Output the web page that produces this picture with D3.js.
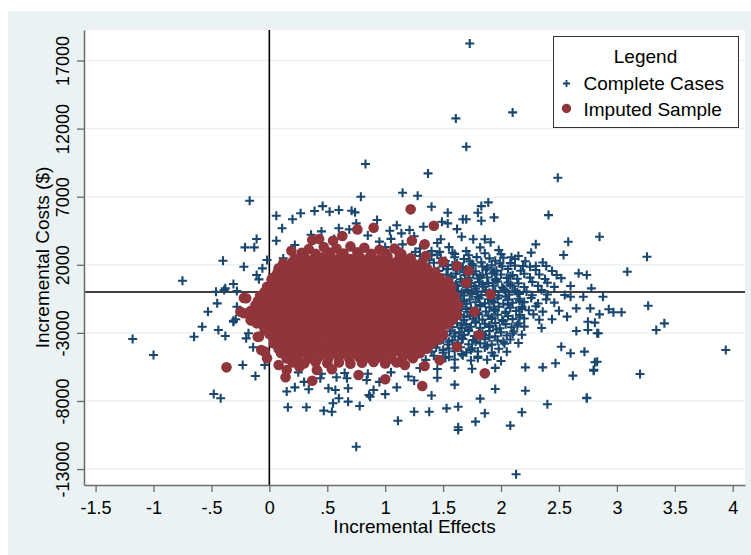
<!DOCTYPE html>
<html>
<head>
<meta charset="utf-8">
<script src="https://cdn.jsdelivr.net/npm/d3@7"></script>
<style>
  html, body { margin: 0; padding: 0; background: #fff; }
  svg { display: block; font-family: "Liberation Sans", Arial, Helvetica, sans-serif; }
</style>
</head>
<body>
<svg></svg>
<script>
// Cost-effectiveness plane: incremental effects vs incremental costs ($)

const xTicks = [-1.5, -1, -0.5, 0, 0.5, 1, 1.5, 2, 2.5, 3, 3.5, 4],
      xTickLabels = ['-1.5', '-1', '-.5', '0', '.5', '1', '1.5', '2', '2.5', '3', '3.5', '4'],
      yTicks = [-13000, -8000, -3000, 2000, 7000, 12000, 17000];

const seriesNames = ['Complete Cases', 'Imputed Sample'];

// Complete cases, scattered points [effect, cost]
const completeOutliers = [
  [1.73,18250],[1.61,12750],[2.10,13190],[1.70,10670],[0.83,9400],[1.37,8710],[2.49,8390],
  [0.79,7000],[1.15,7290],[1.28,7070],[-0.17,6700],[0.06,5600],[0.27,5780],[0.20,5340],
  [0.11,4680],[0.39,5950],[0.46,6310],[0.52,5890],[0.60,6020],[0.71,5970],[0.74,5850],
  [-0.11,3890],[-0.21,3280],[-0.13,3280],[0.06,3770],[-0.40,2300],[-0.22,1860],[-0.02,2350],
  [-0.75,830],[-0.06,1740],[-0.11,1250],[-0.09,930],[-0.31,590],[-0.46,20],[-0.38,270],
  [0.60,4680],[0.69,4600],[0.75,5040],[0.56,3890],[0.12,2470],[0.22,3450],
  [-0.39,150],[-0.28,70],[-0.45,-830],[-0.53,-1450],[-0.28,-1080],[-0.58,-2550],[-0.44,-2790],
  [-0.38,-3230],[-0.65,-3280],[-1.18,-3450],[-1.00,-4620],[-0.31,-2110],[-0.29,-2000],
  [-0.18,-3030],[-0.20,-3400],[-0.14,-4060],[-0.23,-5360],[-0.12,-6170],[-0.48,-7490],
  [-0.42,-7800],[-0.31,-2180],[-0.04,-5360],
  [0.16,-8460],[0.32,-8460],[0.47,-8710],[0.54,-8790],[0.22,-7000],[0.34,-7140],[0.51,-7070],
  [0.57,-7190],[0.60,-7800],[0.68,-7070],[0.68,-8050],[0.78,-8370],[0.55,-8170],[0.44,-6330],
  [0.58,-6260],[0.67,-6330],[0.84,-6460],[0.87,-7690],[0.90,-7190],[0.75,-11360],[0.86,-7560],
  [1.11,-9450],[2.13,-13380],[1.63,-10130],[1.78,-9520],[1.86,-8900],[2.08,-9810],[2.18,-8830],
  [2.40,-8240],[2.74,-7800],[1.82,-7830],[1.95,-7120],[2.21,-7250],[1.53,-8540],[1.63,-8420],
  [1.25,-8790],[1.38,-8790],[1.63,-9930],[2.62,-6140],[2.80,-5720],[2.47,-5230],[2.36,-5530],
  [2.21,-5530],[2.60,-4500],[2.72,-4380],[2.83,-5120],[2.52,-4020],[2.65,-2860],[2.83,-3030],
  [2.75,-2180],[2.77,-1200],[2.57,-1810],[2.44,-2000],[2.65,-1200],[2.60,-350],[2.71,-350],
  [2.85,4060],[3.26,2590],[3.09,1490],[2.74,1250],[2.78,270],[2.88,-350],[3.27,-1010],
  [2.93,-1270],[2.97,-1490],[3.04,-1490],[2.85,-1640],[3.41,-2300],[3.34,-2790],[2.81,-2250],
  [2.75,-2790],[2.84,-3030],[3.94,-4260],[2.81,-5160],[2.80,-5780],[3.20,-6020],[2.74,-7760],
  [1.40,6260],[1.54,5820],[1.80,5820],[1.83,6310],[1.89,6580],[1.94,5480],[1.67,5340],
  [1.70,5340],[1.83,5230],[1.54,5040],[1.49,5160],[2.41,5650],[1.21,4550],[1.33,4790],
  [1.14,4310],[1.04,4500],[0.93,5290],[1.62,4620],[1.66,4060],[1.48,3870],[2.58,3690],
  [2.54,2720],[2.30,3500],[2.26,2890],[1.76,3870],[1.86,3870],[1.91,3650],[1.82,3280],
  [1.98,3080],[2.09,2550],[2.19,1910],[2.30,1910],[2.39,1910],[2.48,1250],[2.67,1370],[2.60,440],
  [0.36,4200],[0.45,4450],[0.85,4150],[0.95,3700],[1.05,3900],[1.15,3500],[1.25,4100],
  [1.30,3200],[1.40,3000],[1.45,3600],[1.55,3300],[1.10,4900],[1.00,3300],[1.60,2800],[1.70,3000],
  [1.30,2650],[1.38,2350],[1.26,2950],[1.47,2950],[1.40,2700],
  [0.25,-5900],[0.45,-6000],[0.65,-5950],[0.85,-6000],[1.05,-5900],[1.20,-6200],[0.95,-6600],
  [1.10,-7000],[1.25,-6500],[1.45,-6300],[1.60,-6800],[1.00,-7500],[1.40,-7600],[0.30,-6600],[0.15,-7300]
];

// Complete cases, dense cluster to the right of the imputed cloud
const completeCluster = [
  [1.45,2750],[1.58,2880],[1.72,2700],[1.86,2850],[2.00,2780],[2.15,2650],
  [1.48,2480],[1.60,2550],[1.68,2420],[1.79,2560],[1.90,2470],[2.02,2520],[2.12,2430],
  [1.42,2150],[1.52,2280],[1.62,2120],[1.73,2250],[1.83,2180],[1.95,2300],[2.08,2130],[2.21,2260],[2.36,2170],
  [1.50,1880],[1.58,1950],[1.67,1850],[1.76,1930],[1.84,1870],[1.92,1960],[2.01,1890],[2.12,1940],[2.25,1860],
  [1.46,1550],[1.54,1680],[1.62,1580],[1.70,1650],[1.78,1530],[1.87,1640],[1.96,1570],[2.06,1690],[2.17,1560],[2.30,1620],[2.44,1540],
  [1.53,1280],[1.61,1350],[1.69,1250],[1.76,1330],[1.84,1270],[1.92,1360],[2.00,1290],[2.10,1240],[2.20,1340],[2.33,1290],
  [1.50,980],[1.57,1060],[1.65,940],[1.72,1050],[1.80,990],[1.88,1070],[1.96,950],[2.05,1040],[2.14,980],[2.25,1060],[2.38,960],[2.52,1020],
  [1.58,680],[1.66,750],[1.74,650],[1.81,730],[1.89,670],[1.97,760],[2.06,690],[2.15,640],[2.27,740],[2.40,680],
  [1.55,380],[1.62,450],[1.70,340],[1.77,430],[1.85,390],[1.93,460],[2.01,350],[2.10,420],[2.20,370],[2.32,450],[2.46,380],
  [1.63,80],[1.71,150],[1.79,50],[1.87,130],[1.95,70],[2.03,160],[2.12,90],[2.22,40],[2.35,140],
  [1.60,-180],[1.68,-250],[1.75,-150],[1.83,-230],[1.90,-170],[1.98,-260],[2.07,-190],[2.16,-140],[2.27,-240],[2.40,-180],[2.55,-220],
  [1.65,-480],[1.73,-550],[1.81,-450],[1.89,-530],[1.97,-470],[2.06,-560],[2.15,-490],[2.26,-440],[2.39,-540],
  [1.62,-780],[1.70,-850],[1.78,-750],[1.86,-830],[1.94,-770],[2.02,-860],[2.10,-790],[2.20,-740],[2.32,-840],[2.46,-780],
  [1.66,-1080],[1.74,-1150],[1.82,-1050],[1.90,-1130],[1.98,-1070],[2.08,-1160],[2.18,-1090],[2.30,-1040],
  [1.63,-1380],[1.71,-1450],[1.79,-1350],[1.87,-1430],[1.95,-1370],[2.04,-1460],[2.13,-1390],[2.24,-1340],[2.36,-1440],[2.50,-1380],
  [1.65,-1680],[1.73,-1750],[1.81,-1650],[1.89,-1730],[1.97,-1670],[2.06,-1760],[2.16,-1690],[2.28,-1640],
  [1.60,-1980],[1.68,-2050],[1.76,-1950],[1.84,-2030],[1.92,-1970],[2.01,-2060],[2.10,-1990],[2.20,-1940],[2.33,-2040],
  [1.62,-2280],[1.70,-2350],[1.78,-2250],[1.86,-2330],[1.95,-2270],[2.04,-2360],[2.15,-2290],
  [1.58,-2580],[1.66,-2650],[1.74,-2550],[1.82,-2630],[1.90,-2570],[1.99,-2660],[2.09,-2590],[2.20,-2540],[2.35,-2640],
  [1.56,-2880],[1.64,-2950],[1.72,-2850],[1.81,-2930],[1.90,-2870],[2.00,-2960],[2.11,-2890],
  [1.52,-3180],[1.60,-3250],[1.68,-3150],[1.77,-3230],[1.86,-3170],[1.95,-3260],[2.05,-3190],[2.18,-3140],
  [1.50,-3480],[1.58,-3550],[1.67,-3450],[1.76,-3530],[1.86,-3470],[1.97,-3560],[2.08,-3490],
  [1.45,-3780],[1.54,-3850],[1.63,-3750],[1.72,-3830],[1.82,-3770],[1.92,-3860],[2.03,-3790],[2.15,-3740],
  [1.44,-4080],[1.55,-4150],[1.65,-4050],[1.75,-4130],[1.86,-4070],[1.98,-4160],
  [1.40,-4380],[1.50,-4450],[1.60,-4350],[1.70,-4430],[1.80,-4370],[1.92,-4460],[2.05,-4390],
  [1.42,-4680],[1.55,-4750],[1.67,-4650],[1.80,-4730],[1.94,-4670],
  [1.35,-4980],[1.48,-5050],[1.60,-4950],[1.74,-5030],[1.88,-4970],[2.00,-5060],
  [1.30,-5580],[1.45,-5650],[1.60,-5550],[1.75,-5630],[1.95,-5570],
  [1.54,2000],[1.65,1750],[1.75,2050],[1.88,1780],[1.99,2100],[1.57,1150],[1.68,1450],[1.82,1150],
  [1.94,1480],[2.08,1150],[1.61,550],[1.72,850],[1.84,560],[1.95,880],[2.08,520],[1.66,-50],
  [1.78,250],[1.90,-60],[2.02,240],[2.14,-40],[1.68,-650],[1.80,-350],[1.92,-660],[2.04,-340],
  [2.16,-640],[1.70,-1250],[1.82,-950],[1.94,-1260],[2.06,-930],[2.18,-1240],[1.68,-1850],[1.80,-1550],
  [1.92,-1860],[2.04,-1540],[2.16,-1850],[1.66,-2450],[1.78,-2150],[1.90,-2460],[2.02,-2140],[2.14,-2450],
  [1.60,-3050],[1.72,-2750],[1.84,-3060],[1.96,-2740],[2.10,-3050],[1.55,-3650],[1.66,-3350],[1.78,-3660],
  [1.90,-3340],[2.02,-3650],[1.50,-4250],[1.62,-3950],[1.74,-4250],[1.88,-3950],[1.52,-4850],[1.66,-4550],[1.80,-4850]
];

// Imputed sample, edge and stray points [effect, cost]
const imputedOutliers = [
  [-0.37,-5530],[1.22,6070],[1.42,4870],[1.23,3770],[1.34,3500],[1.12,2910],[1.35,2640],
  [1.50,2220],[1.62,1910],[1.72,1540],[1.70,680],[1.91,-170],[1.77,-1450],[1.81,-3160],
  [1.86,-5970],[1.47,-4990],[1.32,-6900],[1.00,-6410],[1.17,-5360],[1.34,-5430],[1.62,-4020],
  [0.37,-6510],[0.14,-6260],[0.54,-5670],[0.77,-6090],[0.37,3820],[0.43,3890],[0.55,3770],
  [0.63,4110],[0.76,4600],[0.90,4720],[0.19,3030],[0.30,2590],[0.02,930],
  [-0.22,-440],[-0.25,-1450],[-0.16,-2060],[-0.10,-3280],[-0.07,-4260],[-0.20,-460],
  [-0.22,-1560],[-0.11,-2300],[-0.09,-3280],[-0.04,-4380],[-0.02,-4870],[0.08,-5360],
  [0.15,-5730],[0.26,-5480],[0.41,-5730]
];

// Imputed sample, the dense core of the cloud
const imputedCore = [
  [0.34,3150],[0.47,3300],[0.58,3200],[0.70,3350],[0.82,3250],[0.95,3100],[1.08,3200],
  [0.28,2880],[0.40,2800],[0.52,2900],[0.64,2830],[0.76,2920],[0.88,2810],[1.00,2870],[1.14,2790],
  [0.22,2450],[0.30,2600],[0.38,2400],[0.46,2550],[0.54,2480],[0.62,2650],[0.70,2420],[0.78,2560],
  [0.86,2500],[0.94,2350],[1.02,2600],[1.12,2400],[1.22,2500],
  [0.12,2120],[0.20,2200],[0.28,2100],[0.36,2180],[0.44,2140],[0.52,2220],[0.60,2110],[0.68,2190],
  [0.76,2130],[0.84,2210],[0.92,2100],[1.00,2170],[1.08,2150],[1.16,2220],[1.24,2110],[1.32,2160],
  [0.08,1750],[0.16,1850],[0.24,1700],[0.32,1880],[0.40,1760],[0.48,1820],[0.56,1700],[0.64,1850],
  [0.72,1780],[0.80,1900],[0.88,1720],[0.96,1830],[1.04,1760],[1.12,1880],[1.20,1700],[1.28,1800],[1.36,1750],
  [0.07,1420],[0.15,1500],[0.23,1400],[0.31,1480],[0.39,1440],[0.47,1510],[0.55,1410],[0.63,1470],
  [0.71,1430],[0.79,1500],[0.87,1400],[0.95,1460],[1.03,1440],[1.11,1520],[1.19,1410],[1.27,1480],
  [1.35,1430],[1.43,1470],
  [0.03,1050],[0.11,1150],[0.19,1000],[0.27,1120],[0.35,1080],[0.43,1180],[0.51,1030],[0.59,1140],
  [0.67,1060],[0.75,1170],[0.83,1020],[0.91,1120],[0.99,1080],[1.07,1160],[1.15,1040],[1.23,1130],
  [1.31,1070],[1.39,1150],[1.47,1050],
  [0.02,720],[0.10,790],[0.18,700],[0.26,780],[0.34,740],[0.42,810],[0.50,710],[0.58,770],
  [0.66,730],[0.74,800],[0.82,700],[0.90,760],[0.98,740],[1.06,820],[1.14,710],[1.22,780],
  [1.30,730],[1.38,770],[1.46,720],[1.54,780],
  [-0.02,380],[0.06,450],[0.14,330],[0.22,440],[0.30,390],[0.38,470],[0.46,350],[0.54,420],[0.62,380],
  [0.70,460],[0.78,340],[0.86,430],[0.94,400],[1.02,480],[1.10,360],[1.18,440],[1.26,370],[1.34,450],
  [1.42,390],[1.50,420],[1.57,360],
  [-0.04,20],[0.04,90],[0.12,0],[0.20,80],[0.28,40],[0.36,110],[0.44,10],[0.52,70],[0.60,30],
  [0.68,100],[0.76,0],[0.84,60],[0.92,40],[1.00,120],[1.08,10],[1.16,80],[1.24,30],[1.32,70],
  [1.40,20],[1.48,80],[1.56,40],
  [-0.08,-280],[0.00,-350],[0.08,-250],[0.16,-330],[0.24,-270],[0.32,-360],[0.40,-290],[0.48,-240],
  [0.56,-340],[0.64,-280],[0.72,-370],[0.80,-260],[0.88,-320],[0.96,-250],[1.04,-350],[1.12,-290],
  [1.20,-230],[1.28,-330],[1.36,-270],[1.44,-350],[1.52,-260],[1.60,-310],
  [-0.10,-680],[-0.02,-610],[0.06,-700],[0.14,-620],[0.22,-660],[0.30,-590],[0.38,-690],[0.46,-630],
  [0.54,-670],[0.62,-600],[0.70,-700],[0.78,-640],[0.86,-660],[0.94,-580],[1.02,-690],[1.10,-620],
  [1.18,-670],[1.26,-630],[1.34,-680],[1.42,-620],[1.50,-670],[1.58,-640],
  [-0.12,-980],[-0.04,-1050],[0.04,-950],[0.12,-1030],[0.20,-970],[0.28,-1060],[0.36,-990],[0.44,-940],
  [0.52,-1040],[0.60,-980],[0.68,-1070],[0.76,-960],[0.84,-1020],[0.92,-950],[1.00,-1050],[1.08,-990],
  [1.16,-930],[1.24,-1030],[1.32,-970],[1.40,-1050],[1.48,-960],[1.56,-1010],[1.63,-980],
  [-0.16,-1380],[-0.08,-1310],[0.00,-1400],[0.08,-1320],[0.16,-1360],[0.24,-1290],[0.32,-1390],[0.40,-1330],
  [0.48,-1370],[0.56,-1300],[0.64,-1400],[0.72,-1340],[0.80,-1360],[0.88,-1280],[0.96,-1390],[1.04,-1320],
  [1.12,-1370],[1.20,-1330],[1.28,-1380],[1.36,-1320],[1.44,-1370],[1.52,-1340],[1.60,-1360],
  [-0.12,-1680],[-0.04,-1750],[0.04,-1650],[0.12,-1730],[0.20,-1670],[0.28,-1760],[0.36,-1690],[0.44,-1640],
  [0.52,-1740],[0.60,-1680],[0.68,-1770],[0.76,-1660],[0.84,-1720],[0.92,-1650],[1.00,-1750],[1.08,-1690],
  [1.16,-1630],[1.24,-1730],[1.32,-1670],[1.40,-1750],[1.48,-1660],[1.56,-1710],[1.62,-1680],
  [-0.16,-2080],[-0.08,-2010],[0.00,-2100],[0.08,-2020],[0.16,-2060],[0.24,-1990],[0.32,-2090],[0.40,-2030],
  [0.48,-2070],[0.56,-2000],[0.64,-2100],[0.72,-2040],[0.80,-2060],[0.88,-1980],[0.96,-2090],[1.04,-2020],
  [1.12,-2070],[1.20,-2030],[1.28,-2080],[1.36,-2020],[1.44,-2070],[1.52,-2040],[1.58,-2060],
  [-0.06,-2380],[0.02,-2450],[0.10,-2350],[0.18,-2430],[0.26,-2370],[0.34,-2460],[0.42,-2390],[0.50,-2340],
  [0.58,-2440],[0.66,-2380],[0.74,-2470],[0.82,-2360],[0.90,-2420],[0.98,-2350],[1.06,-2450],[1.14,-2390],
  [1.22,-2330],[1.30,-2430],[1.38,-2370],[1.46,-2450],[1.54,-2380],
  [-0.04,-2780],[0.04,-2710],[0.12,-2800],[0.20,-2720],[0.28,-2760],[0.36,-2690],[0.44,-2790],[0.52,-2730],
  [0.60,-2770],[0.68,-2700],[0.76,-2800],[0.84,-2740],[0.92,-2760],[1.00,-2680],[1.08,-2790],[1.16,-2720],
  [1.24,-2770],[1.32,-2730],[1.40,-2780],[1.48,-2720],
  [0.00,-3080],[0.08,-3150],[0.16,-3050],[0.24,-3130],[0.32,-3070],[0.40,-3160],[0.48,-3090],[0.56,-3040],
  [0.64,-3140],[0.72,-3080],[0.80,-3170],[0.88,-3060],[0.96,-3120],[1.04,-3050],[1.12,-3150],[1.20,-3090],
  [1.28,-3030],[1.36,-3130],[1.44,-3070],[1.50,-3120],
  [0.04,-3480],[0.12,-3410],[0.20,-3500],[0.28,-3420],[0.36,-3460],[0.44,-3390],[0.52,-3490],[0.60,-3430],
  [0.68,-3470],[0.76,-3400],[0.84,-3500],[0.92,-3440],[1.00,-3460],[1.08,-3380],[1.16,-3490],[1.24,-3420],
  [1.32,-3470],[1.40,-3430],[1.46,-3480],
  [0.04,-3780],[0.12,-3850],[0.20,-3750],[0.28,-3830],[0.36,-3770],[0.44,-3860],[0.52,-3790],[0.60,-3740],
  [0.68,-3840],[0.76,-3780],[0.84,-3870],[0.92,-3760],[1.00,-3820],[1.08,-3750],[1.16,-3850],[1.24,-3790],
  [1.32,-3730],[1.40,-3820],
  [0.08,-4180],[0.16,-4110],[0.24,-4200],[0.32,-4120],[0.40,-4160],[0.48,-4090],[0.56,-4190],[0.64,-4130],
  [0.72,-4170],[0.80,-4100],[0.88,-4200],[0.96,-4140],[1.04,-4160],[1.12,-4080],[1.20,-4190],[1.28,-4120],[1.36,-4170],
  [0.10,-4480],[0.18,-4550],[0.26,-4450],[0.34,-4530],[0.42,-4470],[0.50,-4560],[0.58,-4490],[0.66,-4440],
  [0.74,-4540],[0.82,-4480],[0.90,-4570],[0.98,-4460],[1.06,-4520],[1.14,-4450],[1.22,-4550],[1.30,-4490],
  [0.15,-4880],[0.24,-4810],[0.33,-4900],[0.42,-4820],[0.51,-4860],[0.60,-4790],[0.69,-4890],[0.78,-4830],
  [0.87,-4870],[0.96,-4800],[1.05,-4900],[1.15,-4840],[1.24,-4860],
  [0.20,-5180],[0.30,-5250],[0.40,-5150],[0.50,-5230],[0.60,-5170],[0.70,-5260],[0.80,-5190],[0.90,-5140],
  [1.00,-5240],[1.10,-5180]
];

const width = 751,
      height = 555,
      bg = '#eaf2f3',
      blue = '#1a476f',
      red = '#90353b',
      axisGrey = '#6b6b6b',
      plot = { left: 84, right: 745, top: 30, bottom: 485 };

const svg = d3.select('svg')
  .attr('width', width)
  .attr('height', height);

svg.append('rect')
  .attr('x', 8).attr('y', 11)
  .attr('width', width - 8).attr('height', height - 11)
  .attr('fill', bg);

svg.append('rect')
  .attr('x', plot.left).attr('y', plot.top)
  .attr('width', plot.right - plot.left).attr('height', plot.bottom - plot.top)
  .attr('fill', '#fff');

const x = d3.scaleLinear().domain([-1.6, 4.106]).range([plot.left, plot.right]);
const y = d3.scaleLinear().domain([-14170, 19240]).range([plot.bottom, plot.top]);

// gridlines on the y ticks only
svg.append('g')
  .selectAll('line')
  .data(yTicks)
  .enter().append('line')
  .attr('x1', plot.left).attr('x2', plot.right)
  .attr('y1', d => y(d)).attr('y2', d => y(d))
  .attr('stroke', bg)
  .attr('stroke-width', 1.5);

// zero reference lines
svg.append('line')
  .attr('x1', x(0)).attr('x2', x(0))
  .attr('y1', plot.top).attr('y2', plot.bottom)
  .attr('stroke', '#000').attr('stroke-width', 1.6);

svg.append('line')
  .attr('x1', plot.left).attr('x2', plot.right)
  .attr('y1', y(0)).attr('y2', y(0))
  .attr('stroke', '#000').attr('stroke-width', 1.6);

// complete cases: plus markers
const plusPath = s => `M${-s},0H${s}M0,${-s}V${s}`;

svg.append('g')
  .selectAll('path')
  .data(completeOutliers.concat(completeCluster))
  .enter().append('path')
  .attr('transform', d => 'translate(' + [x(d[0]), y(d[1])] + ')')
  .attr('d', plusPath(4.5))
  .attr('stroke', blue)
  .attr('stroke-width', 2.1)
  .attr('fill', 'none');

// imputed sample: filled circles on top
svg.append('g')
  .selectAll('circle')
  .data(imputedCore.concat(imputedOutliers))
  .enter().append('circle')
  .attr('cx', d => x(d[0]))
  .attr('cy', d => y(d[1]))
  .attr('r', 5.3)
  .attr('fill', red);

// axes
const xAxis = svg.append('g')
  .attr('transform', 'translate(0,' + plot.bottom + ')')
  .call(d3.axisBottom(x)
    .tickValues(xTicks)
    .tickFormat((d, i) => xTickLabels[i])
    .tickSize(7)
    .tickPadding(9)
    .tickSizeOuter(0));

const yAxis = svg.append('g')
  .attr('transform', 'translate(' + plot.left + ',0)')
  .call(d3.axisLeft(y)
    .tickValues(yTicks)
    .tickFormat(d => String(d))
    .tickSize(7)
    .tickSizeOuter(0));

[xAxis, yAxis].forEach(g => {
  g.select('.domain').attr('stroke', axisGrey).attr('stroke-width', 1.5);
  g.selectAll('.tick line').attr('stroke', axisGrey).attr('stroke-width', 1.3);
  g.selectAll('.tick text')
    .attr('fill', '#000')
    .style('font-size', '18px')
    .style('font-family', '"Liberation Sans", Arial, sans-serif');
});

yAxis.selectAll('.tick text')
  .attr('x', 0)
  .attr('y', -15)
  .attr('dy', 0)
  .attr('transform', 'rotate(-90)')
  .style('text-anchor', 'middle');

// axis titles
svg.append('text')
  .attr('x', (plot.left + plot.right) / 2)
  .attr('y', 533)
  .attr('text-anchor', 'middle')
  .style('font-size', '19px')
  .text('Incremental Effects');

svg.append('text')
  .attr('transform', 'translate(49,' + (plot.top + plot.bottom) / 2 + ') rotate(-90)')
  .attr('text-anchor', 'middle')
  .style('font-size', '19px')
  .text('Incremental Costs ($)');

// legend
const legend = svg.append('g').attr('transform', 'translate(553.5,36.5)');

legend.append('rect')
  .attr('width', 185).attr('height', 91)
  .attr('fill', '#fff')
  .attr('stroke', '#333')
  .attr('stroke-width', 1);

legend.append('text')
  .attr('x', 92).attr('y', 26)
  .attr('text-anchor', 'middle')
  .style('font-size', '19px')
  .text('Legend');

legend.append('path')
  .attr('transform', 'translate(13,47)')
  .attr('d', plusPath(3.6))
  .attr('stroke', blue)
  .attr('stroke-width', 1.8);

legend.append('circle')
  .attr('cx', 13).attr('cy', 72)
  .attr('r', 4.7)
  .attr('fill', red);

legend.selectAll('text.item')
  .data(seriesNames)
  .enter().append('text')
  .attr('class', 'item')
  .attr('x', 30)
  .attr('y', (d, i) => 53.5 + i * 25.5)
  .style('font-size', '19px')
  .text(d => d);
</script>
</body>
</html>
